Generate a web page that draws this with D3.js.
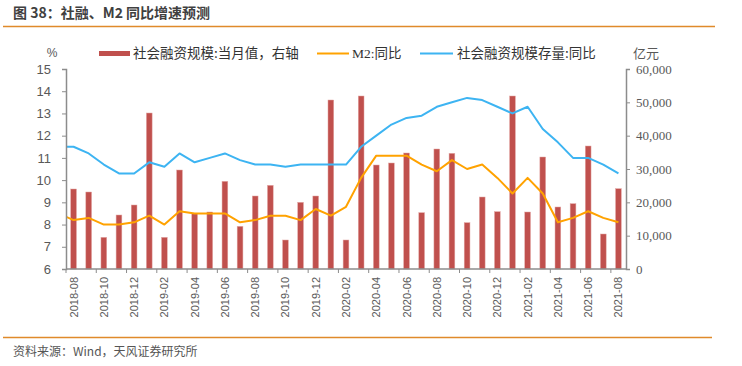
<!DOCTYPE html>
<html><head><meta charset="utf-8">
<script src="https://cdn.jsdelivr.net/npm/d3@7"></script>
<style>
body{margin:0;background:#fff;}
svg{display:block;font-family:"Liberation Sans",Arial,"Noto Sans CJK SC",sans-serif;}
</style></head>
<body><svg id="c" width="742" height="366"></svg>
<script>
const categories = ["2018-08","2018-09","2018-10","2018-11","2018-12","2019-01","2019-02","2019-03","2019-04","2019-05","2019-06","2019-07","2019-08","2019-09","2019-10","2019-11","2019-12","2020-01","2020-02","2020-03","2020-04","2020-05","2020-06","2020-07","2020-08","2020-09","2020-10","2020-11","2020-12","2021-01","2021-02","2021-03","2021-04","2021-05","2021-06","2021-07","2021-08"];
// 社会融资规模:当月值 (亿元, right axis)
const tsfMonthly = [24000,23100,9500,16200,19200,46800,9500,29700,16600,17100,26300,12800,21900,25100,8700,20000,21900,50700,8700,51900,31200,31800,34800,16900,36000,34700,13900,21600,17200,51900,17100,33600,18600,19600,36900,10500,24100];
// M2:同比 (%, left axis)
const m2Yoy = [8.2,8.3,8.0,8.0,8.1,8.4,8.0,8.6,8.5,8.5,8.5,8.1,8.2,8.4,8.4,8.2,8.7,8.4,8.8,10.1,11.1,11.1,11.1,10.7,10.4,10.9,10.5,10.7,10.1,9.4,10.1,9.4,8.1,8.3,8.6,8.3,8.1];
// 社会融资规模存量:同比 (%, left axis)
const tsfStockYoy = [11.5,11.2,10.7,10.3,10.3,10.8,10.6,11.2,10.8,11.0,11.2,10.9,10.7,10.7,10.6,10.7,10.7,10.7,10.7,11.5,12.0,12.5,12.8,12.9,13.3,13.5,13.7,13.6,13.3,13.0,13.3,12.3,11.7,11.0,11.0,10.7,10.3];
// values of the month before the first category (line lead-in, clipped at axis)
const m2Prev = 8.5;
const tsfStockPrev = 11.5;
const leftTicks = [6,7,8,9,10,11,12,13,14,15];
const rightTicks = [0,10000,20000,30000,40000,50000,60000];
const seriesNames = ["社会融资规模:当月值，右轴","M2:同比","社会融资规模存量:同比"];
const colors = {bar:"#C0504D", m2:"#FFA200", stock:"#3DB4F2", axis:"#8C8C8C", text:"#595959", rule:"#E08A2B"};

const svg = d3.select("#c");
const L = 66, R = 626, T = 69, B = 269;

const x = d3.scaleBand().domain(categories).range([L, R]).paddingInner(0.62).paddingOuter(0.31);
const step = x.step();
const cx = i => x(categories[i]) + x.bandwidth()/2;
const yL = d3.scaleLinear().domain([6,15]).range([B, T]);
const yR = d3.scaleLinear().domain([0,60000]).range([B, T]);

// title
svg.append("text").attr("x",13).attr("y",18).attr("font-size",14).attr("font-weight","bold")
  .attr("fill","#404040").attr("font-family","'Noto Sans CJK SC',sans-serif").text("图 38：社融、M2 同比增速预测");
svg.append("line").attr("x1",3).attr("x2",715).attr("y1",26.5).attr("y2",26.5).attr("stroke",colors.rule).attr("stroke-width",1.3);
svg.append("line").attr("x1",3).attr("x2",712).attr("y1",337.5).attr("y2",337.5).attr("stroke",colors.rule).attr("stroke-width",1.3);
svg.append("text").attr("x",13).attr("y",356).attr("font-size",12).attr("fill","#555")
  .attr("font-family","'Noto Sans CJK SC',sans-serif").text("资料来源：Wind，天风证券研究所");

// bars
svg.append("g").selectAll("rect").data(tsfMonthly).join("rect")
  .attr("x",(d,i)=>x(categories[i])).attr("width",x.bandwidth())
  .attr("y",d=>yR(d)).attr("height",d=>B-yR(d))
  .attr("fill",colors.bar).attr("stroke","#E3A7A5").attr("stroke-width",0.5);

// lines
svg.append("clipPath").attr("id","clip").append("rect").attr("x",L).attr("y",0).attr("width",R-L).attr("height",366);
const line = d3.line().x(d=>d[0]).y(d=>yL(d[1]));
function pts(prev, arr){ return [[cx(0)-step, prev]].concat(arr.map((v,i)=>[cx(i), v])); }
svg.append("path").attr("d",line(pts(m2Prev,m2Yoy))).attr("fill","none").attr("stroke",colors.m2)
  .attr("stroke-width",2).attr("stroke-linejoin","round").attr("clip-path","url(#clip)");
svg.append("path").attr("d",line(pts(tsfStockPrev,tsfStockYoy))).attr("fill","none").attr("stroke",colors.stock)
  .attr("stroke-width",2).attr("stroke-linejoin","round").attr("clip-path","url(#clip)");

// left axis
const gL = svg.append("g").attr("transform",`translate(${L},0)`)
  .call(d3.axisLeft(yL).tickValues(leftTicks).tickSize(4).tickPadding(11).tickFormat(d3.format("d")));
gL.select(".domain").attr("stroke",colors.axis).attr("stroke-width",1.5);
gL.selectAll(".tick line").attr("stroke",colors.axis).attr("stroke-width",1);
gL.selectAll(".tick text").attr("fill",colors.text).attr("font-size",13).attr("font-family","'Liberation Sans',Arial,sans-serif");

// right axis
const gR = svg.append("g").attr("transform",`translate(${R},0)`)
  .call(d3.axisRight(yR).tickValues(rightTicks).tickSize(4).tickPadding(6).tickFormat(d3.format(",")));
gR.select(".domain").attr("stroke",colors.axis).attr("stroke-width",1.5);
gR.selectAll(".tick line").attr("stroke",colors.axis).attr("stroke-width",1);
gR.selectAll(".tick text").attr("fill",colors.text).attr("font-size",13).attr("font-family","'Liberation Serif','Times New Roman',serif");

// x axis
const gX = svg.append("g");
gX.append("line").attr("x1",L).attr("x2",R).attr("y1",B).attr("y2",B).attr("stroke",colors.axis).attr("stroke-width",1.5);
const evenIdx = categories.map((c,i)=>i).filter(i=>i%2===0);
gX.selectAll("line.t").data(evenIdx).join("line").attr("class","t")
  .attr("x1",i=>x(categories[i])-x.paddingOuter()*step).attr("x2",i=>x(categories[i])-x.paddingOuter()*step)
  .attr("y1",B).attr("y2",B+4).attr("stroke",colors.axis).attr("stroke-width",1);
gX.selectAll("text").data(evenIdx).join("text")
  .attr("transform",i=>`translate(${cx(i)+4},${B+8}) rotate(-90)`)
  .attr("text-anchor","end").attr("font-size",11).attr("fill",colors.text)
  .attr("font-family","'Liberation Sans',Arial,sans-serif").text(i=>categories[i]);

// unit labels
svg.append("text").attr("x",52).attr("y",57).attr("text-anchor","middle").attr("font-size",12).attr("fill",colors.text).text("%");
svg.append("text").attr("x",633).attr("y",58).attr("font-size",13).attr("fill",colors.text)
  .attr("font-family","'Noto Sans CJK SC',sans-serif").text("亿元");

// legend
const lg = svg.append("g").attr("font-size",13.5).attr("fill","#333");
lg.append("rect").attr("x",99).attr("y",51).attr("width",31).attr("height",5).attr("fill",colors.bar);
lg.append("text").attr("x",133).attr("y",58).attr("font-family","'Noto Sans CJK SC',sans-serif").attr("fill","#333").text(seriesNames[0]);
lg.append("line").attr("x1",317).attr("x2",349).attr("y1",53.5).attr("y2",53.5).attr("stroke",colors.m2).attr("stroke-width",2);
lg.append("text").attr("x",352).attr("y",58).attr("fill","#333").attr("font-family","'Liberation Serif','Noto Sans CJK SC',serif").text(seriesNames[1]);
lg.append("line").attr("x1",420).attr("x2",453).attr("y1",53.5).attr("y2",53.5).attr("stroke",colors.stock).attr("stroke-width",2);
lg.append("text").attr("x",457).attr("y",58).attr("fill","#333").attr("font-family","'Noto Sans CJK SC',sans-serif").text(seriesNames[2]);
</script></body></html>
